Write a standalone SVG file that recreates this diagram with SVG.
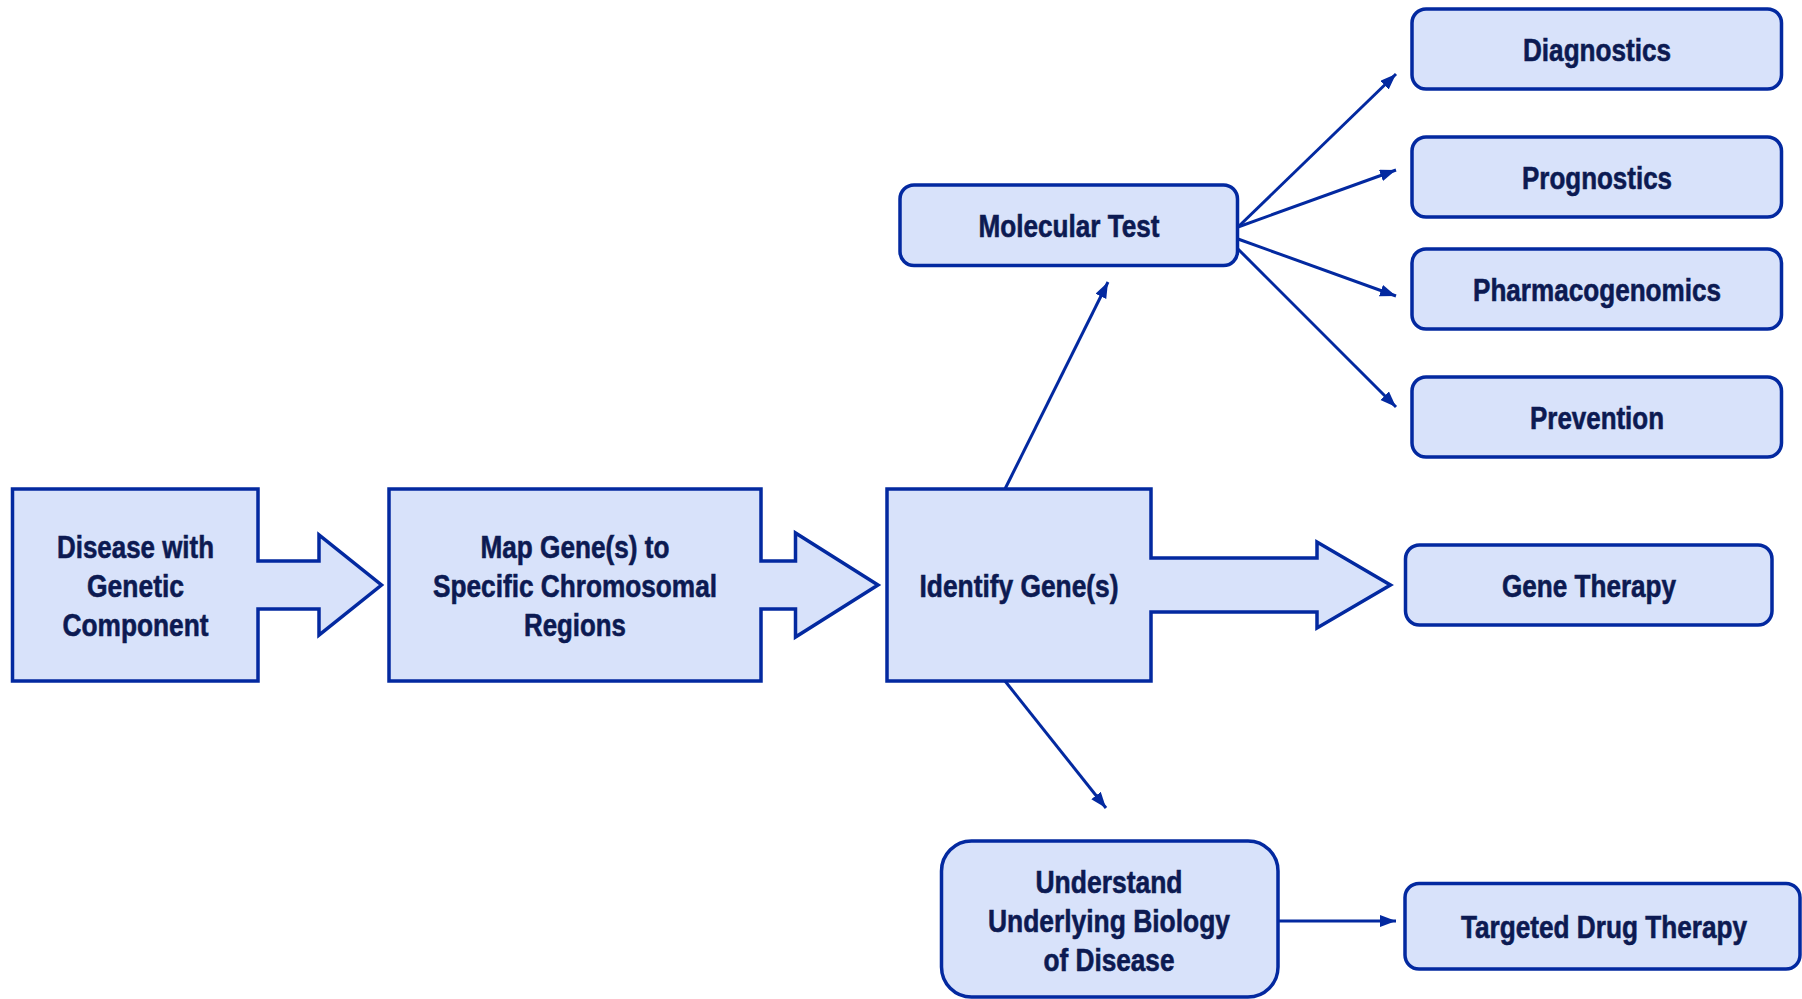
<svg xmlns="http://www.w3.org/2000/svg" width="1802" height="999" viewBox="0 0 1802 999">
<defs>
<style>
.shape{fill:#d8e2fa;stroke:#0329a0;stroke-width:3.5;stroke-linejoin:miter}
.rbox{fill:#d8e2fa;stroke:#0329a0;stroke-width:3.5}
.lbl{font-family:"Liberation Sans Narrow","Liberation Sans",Arial,sans-serif;font-weight:bold;font-size:32px;fill:#0c1a52;stroke:#0c1a52;stroke-width:0.6;text-anchor:middle}
.conn{stroke:#0329a0;stroke-width:3;fill:none}
</style>
<marker id="ah" markerUnits="userSpaceOnUse" markerWidth="18" markerHeight="14" refX="16" refY="6" orient="auto">
<path d="M0,0 L16,6 L0,12 Z" fill="#0329a0"/>
</marker>
</defs>
<rect width="1802" height="999" fill="#ffffff"/>

<g id="connectors">
<line class="conn" x1="1005" y1="489" x2="1108" y2="282" marker-end="url(#ah)"/>
<line class="conn" x1="1005" y1="681" x2="1106" y2="808" marker-end="url(#ah)"/>
<line class="conn" x1="1238" y1="227" x2="1396" y2="74" marker-end="url(#ah)"/>
<line class="conn" x1="1238" y1="227" x2="1396" y2="170" marker-end="url(#ah)"/>
<line class="conn" x1="1238" y1="239" x2="1396" y2="296" marker-end="url(#ah)"/>
<line class="conn" x1="1238" y1="249" x2="1396" y2="407" marker-end="url(#ah)"/>
<line class="conn" x1="1269" y1="921" x2="1396" y2="921" marker-end="url(#ah)"/>
</g>

<g id="disease">
<path class="shape" d="M12.5,489 H258 V561 H319 V535 L381.5,585 L319,635 V609 H258 V681 H12.5 Z"/>
<text class="lbl" x="135.5" y="558" textLength="157" lengthAdjust="spacingAndGlyphs">Disease with</text>
<text class="lbl" x="135.5" y="597" textLength="97" lengthAdjust="spacingAndGlyphs">Genetic</text>
<text class="lbl" x="135.5" y="636" textLength="146" lengthAdjust="spacingAndGlyphs">Component</text>
</g>

<g id="map">
<path class="shape" d="M389,489 H761 V561 H795.5 V533 L878,585 L795.5,637 V609 H761 V681 H389 Z"/>
<text class="lbl" x="575" y="558" textLength="189" lengthAdjust="spacingAndGlyphs">Map Gene(s) to</text>
<text class="lbl" x="575" y="597" textLength="284" lengthAdjust="spacingAndGlyphs">Specific Chromosomal</text>
<text class="lbl" x="575" y="636" textLength="102" lengthAdjust="spacingAndGlyphs">Regions</text>
</g>

<g id="identify">
<path class="shape" d="M887,489 H1151 V558 H1317 V542 L1390.5,585 L1317,628 V612 H1151 V681 H887 Z"/>
<text class="lbl" x="1019" y="597" textLength="199" lengthAdjust="spacingAndGlyphs">Identify Gene(s)</text>
</g>

<g id="molecular">
<rect class="rbox" x="900" y="185" width="337.5" height="80.5" rx="14"/>
<text class="lbl" x="1069" y="237" textLength="181" lengthAdjust="spacingAndGlyphs">Molecular Test</text>
</g>

<g id="diagnostics">
<rect class="rbox" x="1412" y="9" width="369.5" height="80" rx="14"/>
<text class="lbl" x="1597" y="61" textLength="148" lengthAdjust="spacingAndGlyphs">Diagnostics</text>
</g>

<g id="prognostics">
<rect class="rbox" x="1412" y="137" width="369.5" height="80" rx="14"/>
<text class="lbl" x="1597" y="189" textLength="150" lengthAdjust="spacingAndGlyphs">Prognostics</text>
</g>

<g id="pharmacogenomics">
<rect class="rbox" x="1412" y="249" width="369.5" height="80" rx="14"/>
<text class="lbl" x="1597" y="301" textLength="248" lengthAdjust="spacingAndGlyphs">Pharmacogenomics</text>
</g>

<g id="prevention">
<rect class="rbox" x="1412" y="377" width="369.5" height="80" rx="14"/>
<text class="lbl" x="1597" y="429" textLength="134" lengthAdjust="spacingAndGlyphs">Prevention</text>
</g>

<g id="genetherapy">
<rect class="rbox" x="1405.5" y="545" width="366.5" height="80" rx="14"/>
<text class="lbl" x="1589" y="597" textLength="174" lengthAdjust="spacingAndGlyphs">Gene Therapy</text>
</g>

<g id="understand">
<rect class="rbox" x="941.5" y="841" width="336.5" height="156" rx="30"/>
<text class="lbl" x="1109" y="893" textLength="147" lengthAdjust="spacingAndGlyphs">Understand</text>
<text class="lbl" x="1109" y="932" textLength="242" lengthAdjust="spacingAndGlyphs">Underlying Biology</text>
<text class="lbl" x="1109" y="971" textLength="131" lengthAdjust="spacingAndGlyphs">of Disease</text>
</g>

<g id="targeted">
<rect class="rbox" x="1405" y="883.5" width="395" height="85.5" rx="14"/>
<text class="lbl" x="1604" y="938" textLength="286" lengthAdjust="spacingAndGlyphs">Targeted Drug Therapy</text>
</g>
</svg>
